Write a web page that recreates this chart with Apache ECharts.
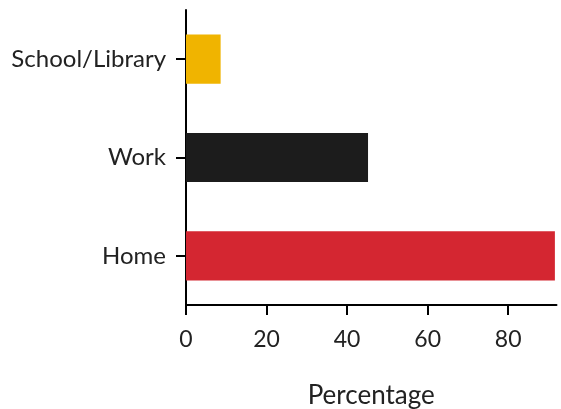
<!DOCTYPE html>
<html><head><meta charset="utf-8">
<script src="https://cdn.jsdelivr.net/npm/echarts@6/dist/echarts.min.js"></script>
<style>html,body{margin:0;padding:0;background:#fff}#c{width:561px;height:409px}</style>
</head><body><div id="c"></div>
<script>
const categories = ["Home", "Work", "School/Library"];
const values = [91.6, 45.2, 8.6];
const barColors = ["#d42631", "#1c1c1c", "#f0b400"];
const xTicks = [0, 20, 40, 60, 80];
const axisName = "Percentage";

const font = "Lato, 'Noto Sans', sans-serif";
const chart = echarts.init(document.getElementById('c'), null, {renderer: 'canvas'});
chart.setOption({
  animation: false,
  grid: {left: 186, right: 4.5, top: 10, bottom: 104, containLabel: false, outerBoundsMode: 'none'},
  xAxis: {
    type: 'value', min: 0, max: 92, interval: 20,
    name: axisName, nameLocation: 'middle', nameGap: 78,
    nameTextStyle: {fontFamily: font, fontSize: 26, color: '#222'},
    axisLine: {show: true, lineStyle: {color: '#000', width: 2}},
    axisTick: {show: true, length: 10, customValues: xTicks, lineStyle: {color: '#000', width: 2}},
    axisLabel: {fontFamily: font, fontSize: 23, color: '#222', margin: 23, customValues: xTicks},
    splitLine: {show: false}
  },
  yAxis: {
    type: 'category', data: categories,
    axisLine: {show: true, lineStyle: {color: '#000', width: 2}},
    axisTick: {show: true, length: 10, alignWithLabel: true, lineStyle: {color: '#000', width: 2}},
    axisLabel: {fontFamily: font, fontSize: 24, color: '#222', margin: 20},
    splitLine: {show: false}
  },
  series: [{
    type: 'bar', barWidth: '50%',
    data: values.map((v, i) => ({value: v, itemStyle: {color: barColors[i]}}))
  }]
});
</script></body></html>
